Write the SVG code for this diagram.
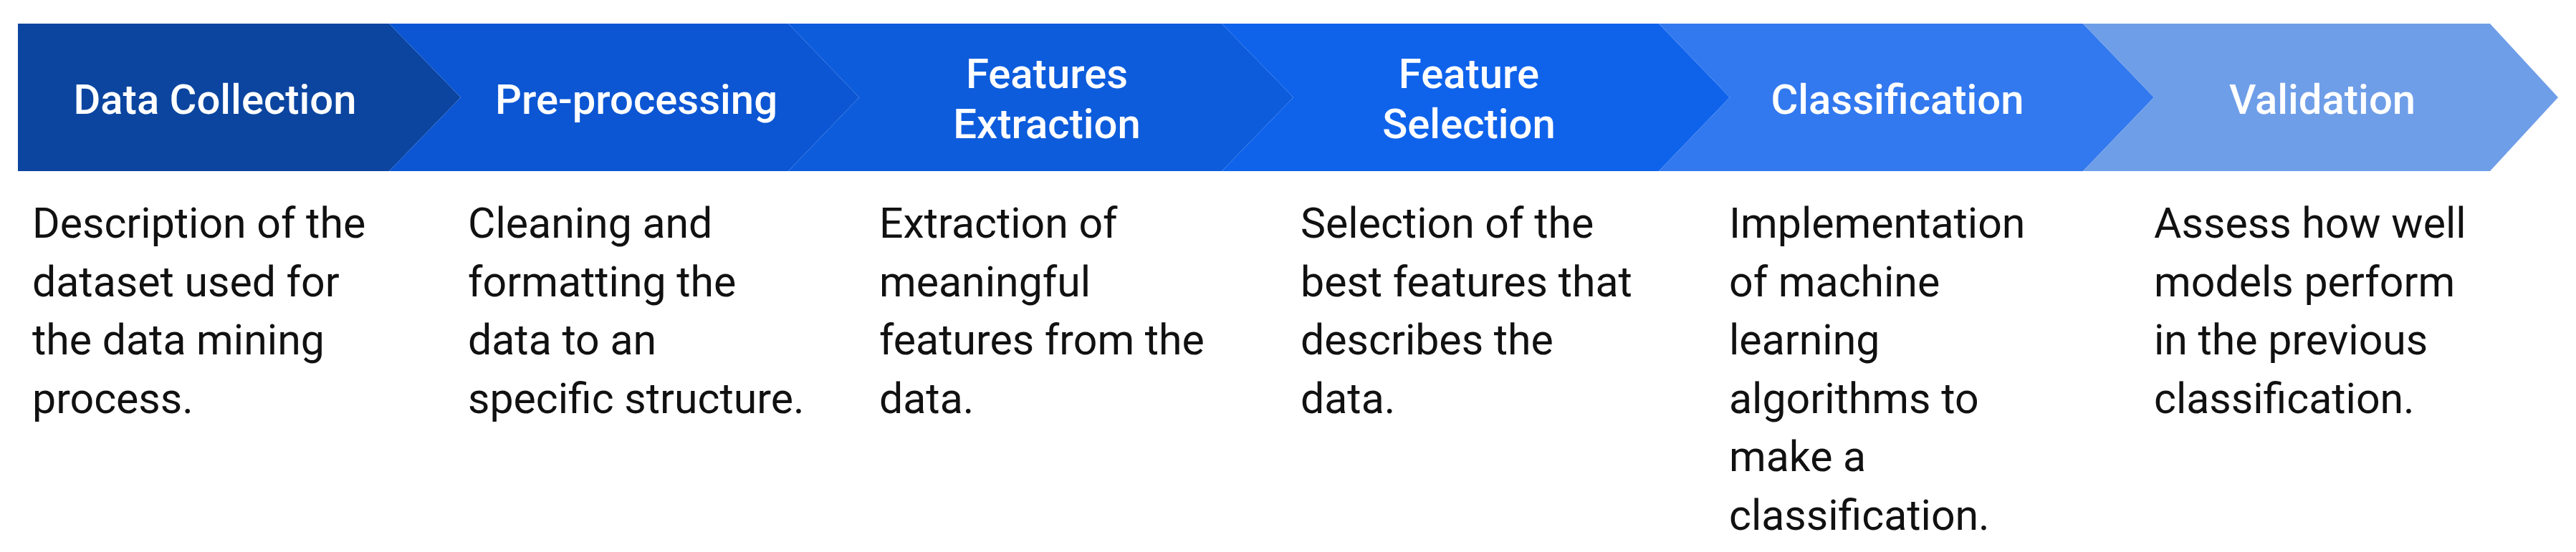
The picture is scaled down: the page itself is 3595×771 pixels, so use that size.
<svg xmlns="http://www.w3.org/2000/svg" width="3595" height="771" viewBox="0 0 3595 771">
<style>
.hd{font-family:Roboto,"Liberation Sans",sans-serif;font-weight:500;font-size:58px;fill:#ffffff;text-anchor:middle}
.ds{font-family:Roboto,"Liberation Sans",sans-serif;font-weight:400;font-size:59px;fill:#111111}
</style>
<rect width="3595" height="771" fill="#ffffff"/>
<g id="node-data-collection">
<polygon points="25,33 543,33 643,136 543,239 25,239" fill="#0B45A0"/>
<text class="hd" x="300" y="159">Data Collection</text>
<text class="ds" x="45"><tspan x="45" y="332">Description of the</tspan><tspan x="45" y="414">dataset used for</tspan><tspan x="45" y="495">the data mining</tspan><tspan x="45" y="577">process.</tspan></text>
</g>
<g id="node-pre-processing">
<polygon points="543,33 1100,33 1199,136 1100,239 543,239 643,136" fill="#0C56D3"/>
<text class="hd" x="888" y="159">Pre-processing</text>
<text class="ds"><tspan x="653" y="332">Cleaning and</tspan><tspan x="653" y="414">formatting the</tspan><tspan x="653" y="495">data to an</tspan><tspan x="653" y="577">specific structure.</tspan></text>
</g>
<g id="node-features-extraction">
<polygon points="1100,33 1705,33 1805,136 1705,239 1100,239 1199,136" fill="#0D5CDC"/>
<text class="hd"><tspan x="1461" y="123">Features</tspan><tspan x="1461" y="193">Extraction</tspan></text>
<text class="ds"><tspan x="1227" y="332">Extraction of</tspan><tspan x="1227" y="414">meaningful</tspan><tspan x="1227" y="495">features from the</tspan><tspan x="1227" y="577">data.</tspan></text>
</g>
<g id="node-feature-selection">
<polygon points="1705,33 2315,33 2414,136 2315,239 1705,239 1805,136" fill="#0F63EB"/>
<text class="hd"><tspan x="2050" y="123">Feature</tspan><tspan x="2050" y="193">Selection</tspan></text>
<text class="ds"><tspan x="1815" y="332">Selection of the</tspan><tspan x="1815" y="414">best features that</tspan><tspan x="1815" y="495">describes the</tspan><tspan x="1815" y="577">data.</tspan></text>
</g>
<g id="node-classification">
<polygon points="2315,33 2907,33 3006,136 2907,239 2315,239 2414,136" fill="#3279EF"/>
<text class="hd" x="2648" y="159">Classification</text>
<text class="ds"><tspan x="2413" y="332">Implementation</tspan><tspan x="2413" y="414">of machine</tspan><tspan x="2413" y="495">learning</tspan><tspan x="2413" y="577">algorithms to</tspan><tspan x="2413" y="658">make a</tspan><tspan x="2413" y="740">classification.</tspan></text>
</g>
<g id="node-validation">
<polygon points="2907,33 3475,33 3570,136 3475,239 2907,239 3006,136" fill="#6F9EE8"/>
<text class="hd" x="3241" y="159">Validation</text>
<text class="ds"><tspan x="3006" y="332">Assess how well</tspan><tspan x="3006" y="414">models perform</tspan><tspan x="3006" y="495">in the previous</tspan><tspan x="3006" y="577">classification.</tspan></text>
</g>
<g id="connectors"></g>
</svg>
